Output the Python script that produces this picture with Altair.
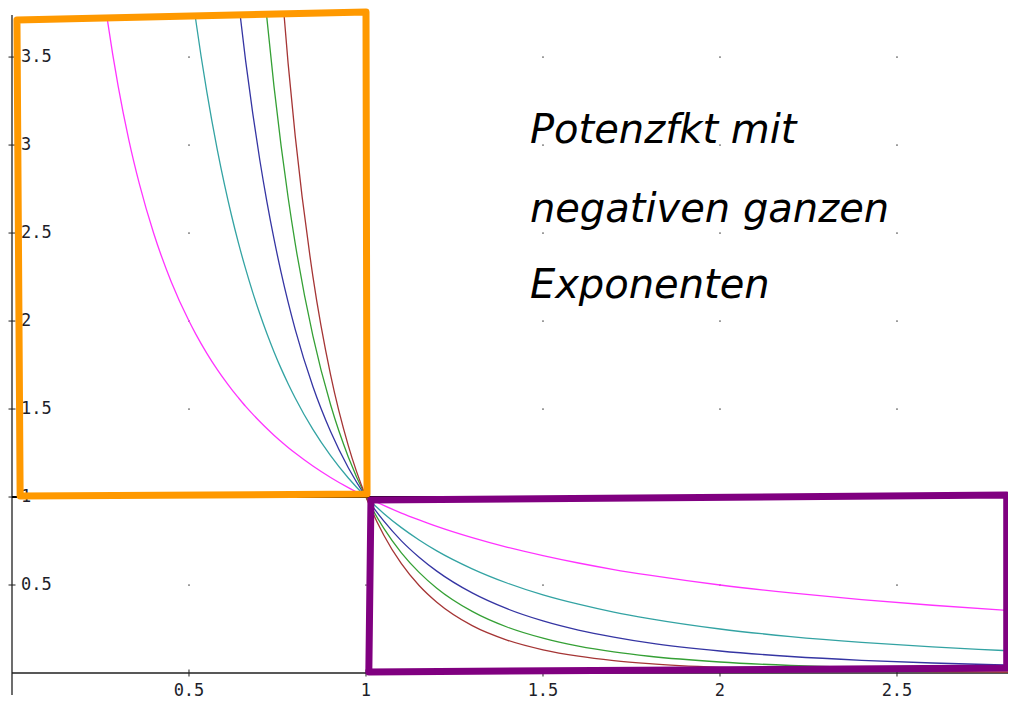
import altair as alt
import pandas as pd

# ---- data ----
xs = [0.25, 0.27, 0.3, 0.33, 0.36, 0.4, 0.45, 0.5, 0.52, 0.55, 0.58, 0.6, 0.62, 0.64,
      0.66, 0.68, 0.7, 0.72, 0.74, 0.76, 0.78, 0.8, 0.85, 0.9, 0.95, 1.0, 1.05, 1.1,
      1.15, 1.2, 1.3, 1.4, 1.5, 1.6, 1.7, 1.8, 2.0, 2.2, 2.4, 2.6, 2.8, 2.85]

y_exp_m1 = [4.0, 3.704, 3.333, 3.030, 2.778, 2.5, 2.222, 2.0, 1.923, 1.818, 1.724, 1.667,
            1.613, 1.563, 1.515, 1.471, 1.429, 1.389, 1.351, 1.316, 1.282, 1.25, 1.176,
            1.111, 1.053, 1.0, 0.952, 0.909, 0.870, 0.833, 0.769, 0.714, 0.667, 0.625,
            0.588, 0.556, 0.5, 0.455, 0.417, 0.385, 0.357, 0.351]
y_exp_m2 = [None] * 7 + [4.0, 3.698, 3.306, 2.973, 2.778, 2.601, 2.441, 2.296, 2.163, 2.041,
                         1.929, 1.826, 1.731, 1.644, 1.563, 1.384, 1.235, 1.108, 1.0, 0.907,
                         0.826, 0.756, 0.694, 0.592, 0.510, 0.444, 0.391, 0.346, 0.309, 0.25,
                         0.207, 0.174, 0.148, 0.128, 0.123]
y_exp_m3 = [None] * 11 + [4.630, 4.196, 3.815, 3.478, 3.181, 2.915, 2.679, 2.468, 2.278, 2.107,
                          1.953, 1.628, 1.372, 1.166, 1.0, 0.864, 0.751, 0.658, 0.579,
                          0.455, 0.364, 0.296, 0.244, 0.204, 0.171,
                          0.125, 0.0939, 0.0723, 0.0569, 0.0456, 0.0432]
y_exp_m4 = [None] * 15 + [4.678, 4.165, 3.721, 3.335, 2.998, 2.702,
                          2.441, 1.916, 1.524, 1.228, 1.0,
                          0.823, 0.683, 0.572, 0.482,
                          0.350, 0.260, 0.198, 0.153, 0.120, 0.0953,
                          0.0625, 0.0427, 0.0301, 0.0219, 0.0163, 0.0152]
y_exp_m5 = [None] * 18 + [4.507, 3.945, 3.464, 3.052,
                          2.254, 1.694, 1.292, 1.0,
                          0.784, 0.621, 0.497, 0.402,
                          0.269, 0.186, 0.132, 0.0954, 0.0704, 0.0529,
                          0.03125, 0.0194, 0.0126, 0.00842, 0.00581, 0.00539]

series_names = ["x^-1", "x^-2", "x^-3", "x^-4", "x^-5"]
series_values = [y_exp_m1, y_exp_m2, y_exp_m3, y_exp_m4, y_exp_m5]
series_colors = ["#ff33ff", "#33a3a3", "#3535a3", "#35a035", "#a53535"]

x_ticks = [0.5, 1, 1.5, 2, 2.5]
x_tick_labels = ["0.5", "1", "1.5", "2", "2.5"]
y_ticks = [0.5, 1, 1.5, 2, 2.5, 3, 3.5]
y_tick_labels = ["0.5", "1", "1.5", "2", "2.5", "3", "3.5"]

note_lines = ["Potenzfkt mit", "negativen ganzen", "Exponenten"]
note_y = [3.011, 2.563, 2.131]
note_x = 1.463

# hand-drawn boxes (data coordinates of the corners, drawn in order)
orange_x = [0.014, 1.0, 1.003, 0.023, 0.014]
orange_y = [3.71, 3.756, 1.017, 1.006, 3.71]
purple_x = [1.014, 2.81, 2.81, 1.008, 1.014]
purple_y = [0.983, 1.011, 0.028, 0.006, 0.983]

# ---- tables ----
rows = []
for name, vals in zip(series_names, series_values):
    for x, y in zip(xs, vals):
        if y is not None:
            rows.append({"x": x, "y": y, "s": name})
curves = pd.DataFrame(rows)

grid = pd.DataFrame([{"x": gx, "y": gy} for gx in x_ticks for gy in y_ticks])
xt = pd.DataFrame({"x": x_ticks, "label": x_tick_labels, "y": [0] * len(x_ticks)})
yt = pd.DataFrame({"y": y_ticks, "label": y_tick_labels, "x": [0] * len(y_ticks)})
notes = pd.DataFrame({"text": note_lines, "y": note_y, "x": [note_x] * 3})
orange = pd.DataFrame({"x": orange_x, "y": orange_y, "o": list(range(5))})
purple = pd.DataFrame({"x": purple_x, "y": purple_y, "o": list(range(5))})
axes_df = pd.DataFrame({"x": [0], "y": [0]})
one_df = pd.DataFrame({"y": [1]})

xsc = alt.Scale(domain=[0, 2.8136], nice=False, zero=False)
ysc = alt.Scale(domain=[-0.125, 3.739], nice=False, zero=False)


def X(f="x"):
    return alt.X(f"{f}:Q", scale=xsc, axis=None)


def Y(f="y"):
    return alt.Y(f"{f}:Q", scale=ysc, axis=None)


dots = alt.Chart(grid).mark_square(size=3, color="#808080", opacity=0.9).encode(x=X(), y=Y())

yaxis = alt.Chart(axes_df).mark_rule(color="#202020", strokeWidth=1.3).encode(x=X())
xaxis = alt.Chart(axes_df).mark_rule(color="#202020", strokeWidth=1.3).encode(y=Y())

yticks = alt.Chart(yt).mark_point(shape="stroke", size=49, color="#202020",
                                  strokeWidth=1, filled=False, opacity=1).encode(x=X(), y=Y())
xticks = alt.Chart(xt).mark_point(shape="stroke", size=49, angle=90, color="#202020",
                                  strokeWidth=1, filled=False, opacity=1).encode(x=X(), y=Y())

ylabels = alt.Chart(yt).mark_text(align="left", baseline="middle", dx=9,
                                  font="DejaVu Sans Mono", fontSize=17,
                                  color="#1e1e2a").encode(x=X(), y=Y(), text="label:N")
xlabels = alt.Chart(xt).mark_text(align="center", baseline="middle", dy=18,
                                  font="DejaVu Sans Mono", fontSize=17,
                                  color="#1e1e2a").encode(x=X(), y=Y(), text="label:N")

lines = alt.Chart(curves).mark_line(clip=True, strokeWidth=1.3, interpolate="monotone").encode(
    x=X(), y=Y(),
    color=alt.Color("s:N", scale=alt.Scale(domain=series_names, range=series_colors), legend=None),
    detail="s:N",
)

unit_line = alt.Chart(one_df).mark_rule(color="black", strokeWidth=2.2).encode(y=Y())

note = alt.Chart(notes).mark_text(align="left", baseline="alphabetic", font="DejaVu Sans",
                                  fontStyle="italic", fontSize=40, color="black").encode(
    x=X(), y=Y(), text="text:N")

orange_box = alt.Chart(orange).mark_line(color="#ff9900", strokeWidth=7, strokeCap="round",
                                         strokeJoin="round", clip=False).encode(
    x=X(), y=Y(), order="o:Q")
purple_box = alt.Chart(purple).mark_line(color="#800080", strokeWidth=7, strokeCap="round",
                                         strokeJoin="round", clip=False).encode(
    x=X(), y=Y(), order="o:Q")

chart = alt.layer(
    dots, yaxis, xaxis, yticks, xticks, ylabels, xlabels, lines, unit_line, note,
    orange_box, purple_box,
).properties(
    width=996, height=680,
    autosize=alt.AutoSizeParams(type="none"),
    padding={"left": 4, "top": 7, "right": 0, "bottom": 5},
    background="white",
).configure_view(stroke=None)

chart.save("out.html", embed_options={"renderer": "svg", "actions": False})
